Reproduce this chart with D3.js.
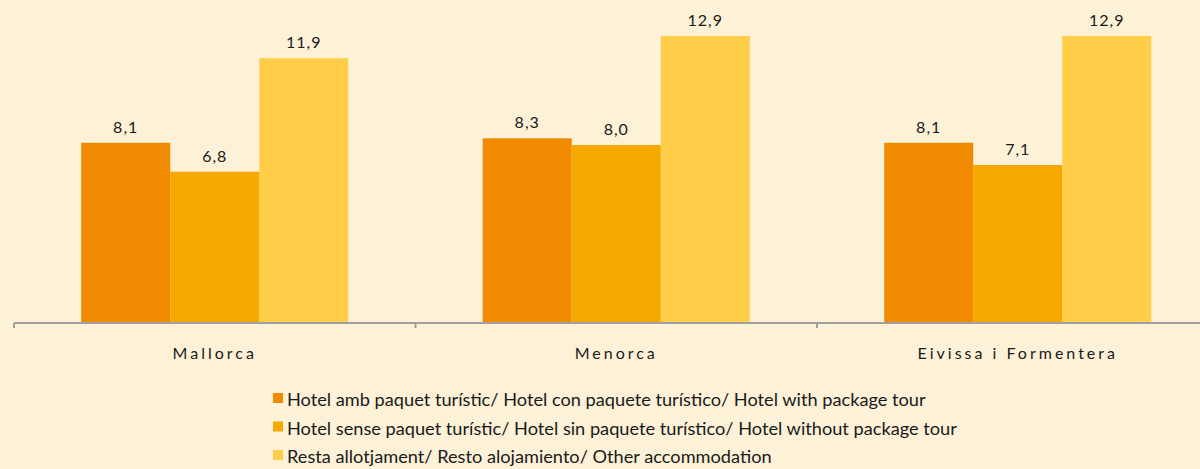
<!DOCTYPE html>
<html><head><meta charset="utf-8">
<script src="https://cdn.jsdelivr.net/npm/d3@7"></script>
<style>
html,body{margin:0;padding:0;background:#FDF1D7;}
svg{display:block;}
text{font-family:Lato, "Open Sans", sans-serif;fill:#1a1a1a;}
</style></head><body>
<svg id="chart" width="1200" height="469"></svg>
<script>
const categories = ["Mallorca", "Menorca", "Eivissa i Formentera"];
const seriesNames = [
  "Hotel amb paquet turístic/ Hotel con paquete turístico/ Hotel with package tour",
  "Hotel sense paquet turístic/ Hotel sin paquete turístico/ Hotel without package tour",
  "Resta allotjament/ Resto alojamiento/ Other accommodation"
];
const hotelPackage = [8.1, 8.3, 8.1];
const hotelNoPackage = [6.8, 8.0, 7.1];
const otherAccommodation = [11.9, 12.9, 12.9];
const colors = ["#F08A00", "#F5A800", "#FFCD48"];

const series = [hotelPackage, hotelNoPackage, otherAccommodation];
const svg = d3.select("#chart");
const W = 1200, H = 469;
svg.append("rect").attr("width", W).attr("height", H).attr("fill", "#FDF1D7");

const x0 = d3.scaleBand().domain(categories).range([14, 14 + 401.5 * 3]).paddingInner(0).paddingOuter(0);
const x1 = d3.scaleBand().domain([0, 1, 2]).range([0, x0.bandwidth()]).paddingInner(0).paddingOuter(0.755);
const y = d3.scaleLinear().domain([0, 14]).range([323, 323 - 14 * 22.25]);

// bars
categories.forEach((c, ci) => {
  const g = svg.append("g").attr("transform", `translate(${x0(c)},0)`);
  series.forEach((s, si) => {
    const v = s[ci];
    g.append("rect")
      .attr("x", x1(si))
      .attr("y", y(v))
      .attr("width", x1.bandwidth())
      .attr("height", y(0) - y(v))
      .attr("fill", colors[si]);
    g.append("text")
      .attr("x", x1(si) + x1.bandwidth() / 2)
      .attr("y", y(v) - 10)
      .attr("text-anchor", "middle")
      .attr("font-size", 16)
      .attr("letter-spacing", 1)
      .text(d3.format(".1f")(v).replace(".", ","));
  });
});

// axis
const axis = d3.axisBottom(x0).tickSize(0).tickSizeOuter(0);
const ag = svg.append("g").attr("transform", "translate(0,323)");
ag.append("line").attr("x1", 14).attr("x2", W).attr("y1", 0).attr("y2", 0)
  .attr("stroke", "#A0A0A0").attr("stroke-width", 2);
[0, 1, 2, 3].forEach(i => {
  const xx = 14 + i * x0.step();
  ag.append("line").attr("x1", xx).attr("x2", xx).attr("y1", 0).attr("y2", 5)
    .attr("stroke", "#A0A0A0").attr("stroke-width", 2);
});
const ax = ag.append("g").call(axis);
ax.select(".domain").remove();
ax.selectAll("text")
  .attr("y", 36)
  .attr("dy", 0)
  .attr("font-size", 16)
  .attr("letter-spacing", 3)
  .style("font-family", "Lato, sans-serif")
  .attr("fill", "#1a1a1a");

// legend
const lg = svg.append("g");
seriesNames.forEach((n, i) => {
  const yy = 406 + i * 28.5;
  lg.append("rect").attr("x", 273).attr("y", yy - 13).attr("width", 10).attr("height", 10).attr("fill", colors[i]);
  lg.append("text").attr("x", 287).attr("y", yy).attr("font-size", 18.2).text(n);
});
</script>
</body></html>
